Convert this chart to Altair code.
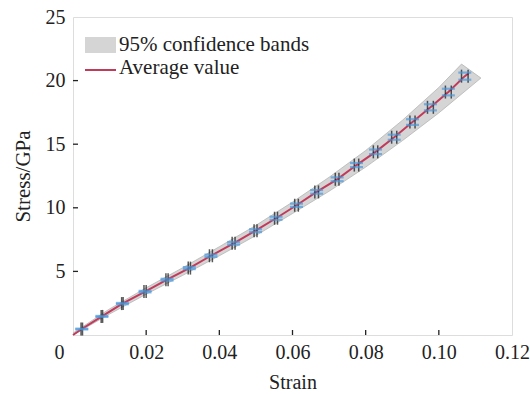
import altair as alt
import pandas as pd

# Measured sample points: mean strain / stress per load step
strain_c = [0.0024, 0.0079, 0.0135, 0.0197, 0.0257, 0.0318, 0.0377, 0.0439, 0.0499, 0.0555,
            0.0611, 0.0666, 0.0722, 0.0775, 0.0827, 0.0878, 0.0928, 0.0977, 0.1026, 0.1071]
stress_c = [0.47, 1.46, 2.47, 3.41, 4.35, 5.26, 6.23, 7.21, 8.20, 9.18,
            10.20, 11.25, 12.24, 13.36, 14.40, 15.55, 16.74, 17.90, 19.10, 20.35]

# Spread between the two specimens at each step
strain_lo = [0.0022, 0.0077, 0.0133, 0.0194, 0.0254, 0.0315, 0.0373, 0.0435, 0.0495, 0.0551,
             0.0606, 0.0661, 0.0717, 0.0769, 0.0821, 0.0871, 0.0921, 0.0969, 0.1018, 0.1062]
strain_hi = [0.0026, 0.0081, 0.0137, 0.0200, 0.0260, 0.0321, 0.0381, 0.0443, 0.0503, 0.0559,
             0.0616, 0.0671, 0.0727, 0.0781, 0.0833, 0.0885, 0.0935, 0.0985, 0.1034, 0.1080]
stress_lo = [0.44, 1.42, 2.42, 3.35, 4.28, 5.18, 6.14, 7.11, 8.09, 9.06,
             10.07, 11.11, 12.09, 13.20, 14.22, 15.35, 16.52, 17.66, 18.84, 20.07]
stress_hi = [0.50, 1.50, 2.52, 3.47, 4.42, 5.34, 6.32, 7.31, 8.31, 9.30,
             10.33, 11.39, 12.39, 13.52, 14.58, 15.75, 16.96, 18.14, 19.36, 20.63]

# Average curve
mean_strain = [0.0] + strain_c + [0.1082]
mean_stress = [0.0] + stress_c + [20.6]

# 95% confidence band outline (upper edge, then lower edge)
band_upper_strain = [0.0, 0.01, 0.02, 0.03, 0.04, 0.05, 0.06, 0.07, 0.08, 0.09, 0.10, 0.1062]
band_upper_stress = [0.15, 2.05, 3.71, 5.29, 6.94, 8.62, 10.45, 12.40, 14.50, 16.87, 19.46, 21.30]
band_lower_strain = [0.0, 0.01, 0.02, 0.03, 0.04, 0.05, 0.06, 0.07, 0.08, 0.09, 0.10, 0.1115]
band_lower_stress = [0.0, 1.65, 3.21, 4.69, 6.23, 7.82, 9.55, 11.30, 13.20, 15.27, 17.46, 20.20]

x_ticks = [0, 0.02, 0.04, 0.06, 0.08, 0.10, 0.12]
y_ticks = [5, 10, 15, 20, 25]
x_inner_ticks = [0.02, 0.04, 0.06, 0.08, 0.10]
y_inner_ticks = [5, 10, 15, 20]

legend_band_label = "95% confidence bands"
legend_line_label = "Average value"

W, H = 439, 318
FONT = "'Times New Roman', 'Liberation Serif', serif"
INK = "#222222"
RED = "#c23a5a"
BLUE = "#4a98dc"
BAND = "#d5d5d5"

band_df = pd.DataFrame({
    "strain": band_upper_strain + band_lower_strain[::-1],
    "stress": band_upper_stress + band_lower_stress[::-1],
    "order": list(range(len(band_upper_strain) + len(band_lower_strain))),
})
mean_df = pd.DataFrame({"strain": mean_strain, "stress": mean_stress})
pts_df = pd.DataFrame({
    "strain_c": strain_c, "stress_c": stress_c,
    "strain_lo": strain_lo, "strain_hi": strain_hi,
    "stress_lo": stress_lo, "stress_hi": stress_hi,
})

x_scale = alt.Scale(domain=[0, 0.12], nice=False, zero=False)
y_scale = alt.Scale(domain=[0, 25], nice=False)

x_axis = alt.Axis(
    values=x_ticks, title="Strain", ticks=False, domain=False, grid=False,
    labelFlush=False,
    labelExpr="datum.value == 0 ? '0' : format(datum.value, '.2f')",
    labelOffset={"condition": {"test": "datum.value == 0", "value": -14}, "value": 0},
    labelFont=FONT, labelFontSize=20, labelColor=INK, labelPadding=7,
    titleFont=FONT, titleFontSize=20, titleFontWeight="normal", titleColor=INK,
    titlePadding=10,
)
y_axis = alt.Axis(
    values=y_ticks, title="Stress/GPa", ticks=False, domain=False, grid=False,
    labelFlush=False,
    labelFont=FONT, labelFontSize=20, labelColor=INK, labelPadding=8,
    titleFont=FONT, titleFontSize=21, titleFontWeight="normal", titleColor=INK,
    titlePadding=12,
)

band = alt.Chart(band_df).mark_line(
    filled=True, color=BAND, stroke="#b5b5b5", strokeWidth=0.8
).encode(
    x=alt.X("strain:Q", scale=x_scale, axis=x_axis),
    y=alt.Y("stress:Q", scale=y_scale, axis=y_axis),
    order="order:Q",
)

mean_line = alt.Chart(mean_df).mark_line(color=RED, strokeWidth=2).encode(
    x=alt.X("strain:Q", scale=x_scale), y=alt.Y("stress:Q", scale=y_scale)
)

pts = alt.Chart(pts_df)
black_lo = pts.mark_tick(orient="vertical", color="#111", size=13, thickness=1.5).encode(
    x=alt.X("strain_lo:Q", scale=x_scale), y=alt.Y("stress_c:Q", scale=y_scale))
black_hi = pts.mark_tick(orient="vertical", color="#111", size=13, thickness=1.5).encode(
    x=alt.X("strain_hi:Q", scale=x_scale), y=alt.Y("stress_c:Q", scale=y_scale))
blue_lo = pts.mark_tick(orient="horizontal", color=BLUE, size=13, thickness=2.2).encode(
    x=alt.X("strain_c:Q", scale=x_scale), y=alt.Y("stress_lo:Q", scale=y_scale))
blue_hi = pts.mark_tick(orient="horizontal", color=BLUE, size=13, thickness=2.2).encode(
    x=alt.X("strain_c:Q", scale=x_scale), y=alt.Y("stress_hi:Q", scale=y_scale))

# inward-pointing tick marks along the bottom and left axes
xt = alt.Chart(pd.DataFrame({"v": x_inner_ticks})).mark_rule(color=INK, strokeWidth=1.3).encode(
    x=alt.X("v:Q", scale=x_scale), y=alt.value(H), y2=alt.value(H - 5))
yt = alt.Chart(pd.DataFrame({"v": y_inner_ticks})).mark_rule(color=INK, strokeWidth=1.3).encode(
    y=alt.Y("v:Q", scale=y_scale), x=alt.value(0), x2=alt.value(5))

# legend drawn inside the plot area
leg_df = pd.DataFrame({"band": [legend_band_label], "line": [legend_line_label]})
leg_rect = alt.Chart(leg_df).mark_rect(color=BAND).encode(
    x=alt.value(12), x2=alt.value(43), y=alt.value(20), y2=alt.value(36))
leg_line = alt.Chart(leg_df).mark_rule(color=RED, strokeWidth=2).encode(
    x=alt.value(12), x2=alt.value(43), y=alt.value(53))
leg_text1 = alt.Chart(leg_df).mark_text(
    font=FONT, fontSize=21, align="left", baseline="alphabetic", color=INK
).encode(text="band:N", x=alt.value(46), y=alt.value(34))
leg_text2 = alt.Chart(leg_df).mark_text(
    font=FONT, fontSize=21, align="left", baseline="alphabetic", color=INK
).encode(text="line:N", x=alt.value(46), y=alt.value(57))

chart = alt.layer(
    band, mean_line, black_lo, black_hi, blue_lo, blue_hi, xt, yt,
    leg_rect, leg_line, leg_text1, leg_text2,
).properties(
    width=W, height=H,
    padding={"left": 73, "top": 17, "right": 18, "bottom": 59},
    autosize=alt.AutoSizeParams(type="none"),
).configure_view(stroke=INK, strokeWidth=1.5).configure(background="white")

chart.save("out.html", embed_options={"renderer": "svg", "actions": False})
